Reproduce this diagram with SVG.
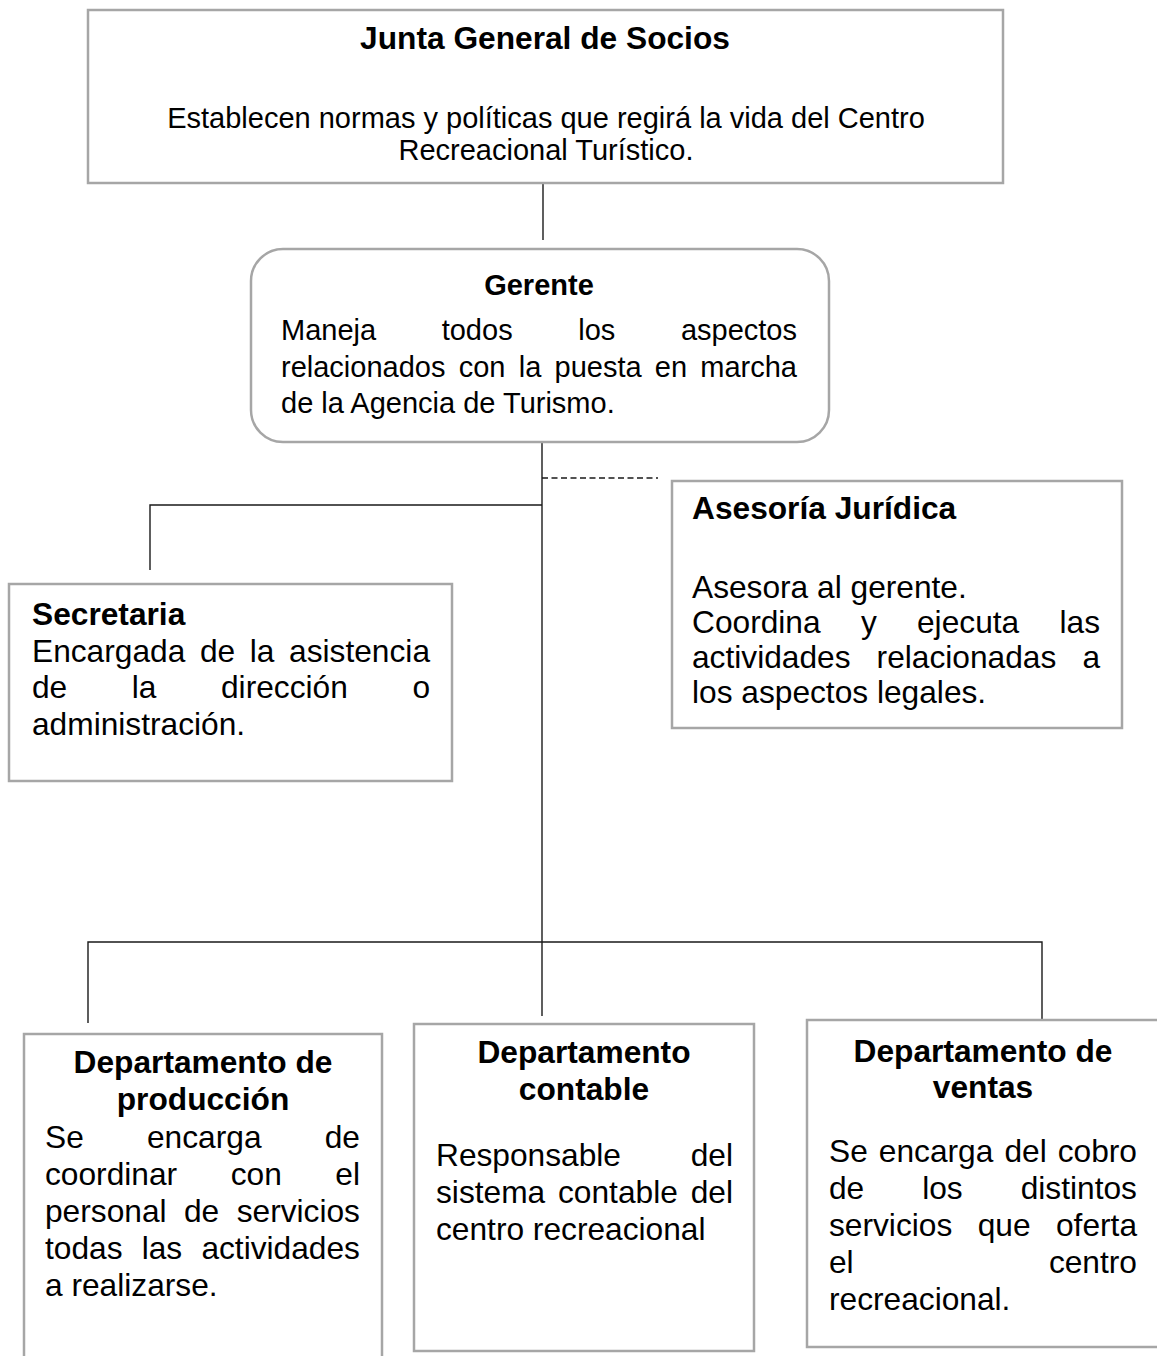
<svg xmlns="http://www.w3.org/2000/svg" width="1157" height="1356" viewBox="0 0 1157 1356">
<style>
.box{fill:#fff;stroke:#a6a6a6;stroke-width:2.5}
.conn{fill:none;stroke:#1a1a1a;stroke-width:1.4}
.dash{stroke-dasharray:6 3.5}
text{font-family:"Liberation Sans",Arial,sans-serif;fill:#000}
.b{font-weight:bold}
.f32{font-size:31.7px}
.f29{font-size:29px}
.mid{text-anchor:middle}
</style>
<rect width="1157" height="1356" fill="#fff"/>
<g id="connectors">
<line class="conn" x1="543" y1="184" x2="543" y2="240"/>
<line class="conn" x1="542" y1="443" x2="542" y2="1016"/>
<line class="conn dash" x1="542" y1="478" x2="658" y2="478"/>
<polyline class="conn" points="542,505 150,505 150,570"/>
<polyline class="conn" points="88,1023 88,942 1042,942 1042,1020"/>
</g>
<g id="junta">
<rect class="box" x="88" y="10" width="915" height="173"/>
<text class="b f32 mid" x="545" y="49">Junta General de Socios</text>
<text class="f29 mid" x="546" y="128">Establecen normas y políticas que regirá la vida del Centro</text>
<text class="f29 mid" x="546" y="160">Recreacional Turístico.</text>
</g>
<g id="gerente">
<rect class="box" x="251" y="249" width="578" height="193" rx="32" ry="32"/>
<text class="b f29 mid" x="539" y="295">Gerente</text>
<text class="f29" y="340"><tspan x="281">Maneja</tspan><tspan x="441.7">todos</tspan><tspan x="578.3">los</tspan><tspan x="680.9">aspectos</tspan></text>
<text class="f29" y="377"><tspan x="281">relacionados</tspan><tspan x="458.7">con</tspan><tspan x="518.7">la</tspan><tspan x="554.5">puesta</tspan><tspan x="654.8">en</tspan><tspan x="700.3">marcha</tspan></text>
<text class="f29" x="281" y="413">de la Agencia de Turismo.</text>
</g>
<g id="secretaria">
<rect class="box" x="9" y="584" width="443" height="197"/>
<text class="b f32" x="32" y="625">Secretaria</text>
<text class="f32" y="662"><tspan x="32">Encargada</tspan><tspan x="199.9">de</tspan><tspan x="249.8">la</tspan><tspan x="289.1">asistencia</tspan></text>
<text class="f32" y="698"><tspan x="32">de</tspan><tspan x="131.8">la</tspan><tspan x="221">dirección</tspan><tspan x="412.4">o</tspan></text>
<text class="f32" x="32" y="735">administración.</text>
</g>
<g id="asesoria">
<rect class="box" x="672" y="481" width="450" height="247"/>
<text class="b f32" x="692" y="519">Asesoría Jurídica</text>
<text class="f32" x="692" y="598">Asesora al gerente.</text>
<text class="f32" y="633"><tspan x="692">Coordina</tspan><tspan x="860.9">y</tspan><tspan x="917">ejecuta</tspan><tspan x="1059.5">las</tspan></text>
<text class="f32" y="668"><tspan x="692">actividades</tspan><tspan x="876.6">relacionadas</tspan><tspan x="1082.4">a</tspan></text>
<text class="f32" x="692" y="703">los aspectos legales.</text>
</g>
<g id="produccion">
<rect class="box" x="24" y="1034" width="358" height="340"/>
<text class="b f32 mid" x="203" y="1073">Departamento de</text>
<text class="b f32 mid" x="203" y="1110">producción</text>
<text class="f32" y="1148"><tspan x="45">Se</tspan><tspan x="147">encarga</tspan><tspan x="324.7">de</tspan></text>
<text class="f32" y="1185"><tspan x="45">coordinar</tspan><tspan x="230.7">con</tspan><tspan x="335.3">el</tspan></text>
<text class="f32" y="1222"><tspan x="45">personal</tspan><tspan x="184">de</tspan><tspan x="236.7">servicios</tspan></text>
<text class="f32" y="1259"><tspan x="45">todas</tspan><tspan x="141.7">las</tspan><tspan x="201.4">actividades</tspan></text>
<text class="f32" x="45" y="1296">a realizarse.</text>
</g>
<g id="contable">
<rect class="box" x="414" y="1024" width="340" height="327"/>
<text class="b f32 mid" x="584" y="1063">Departamento</text>
<text class="b f32 mid" x="584" y="1100">contable</text>
<text class="f32" y="1166"><tspan x="436">Responsable</tspan><tspan x="690.7">del</tspan></text>
<text class="f32" y="1203"><tspan x="436">sistema</tspan><tspan x="558">contable</tspan><tspan x="690.7">del</tspan></text>
<text class="f32" x="436" y="1240">centro recreacional</text>
</g>
<g id="ventas">
<rect class="box" x="807" y="1020" width="360" height="327"/>
<text class="b f32 mid" x="983" y="1062">Departamento de</text>
<text class="b f32 mid" x="983" y="1098">ventas</text>
<text class="f32" y="1162"><tspan x="829">Se</tspan><tspan x="878.8">encarga</tspan><tspan x="1004.4">del</tspan><tspan x="1057.7">cobro</tspan></text>
<text class="f32" y="1199"><tspan x="829">de</tspan><tspan x="922.2">los</tspan><tspan x="1020.7">distintos</tspan></text>
<text class="f32" y="1236"><tspan x="829">servicios</tspan><tspan x="977.7">que</tspan><tspan x="1056">oferta</tspan></text>
<text class="f32" y="1273"><tspan x="829">el</tspan><tspan x="1048.9">centro</tspan></text>
<text class="f32" x="829" y="1310">recreacional.</text>
</g>
</svg>
